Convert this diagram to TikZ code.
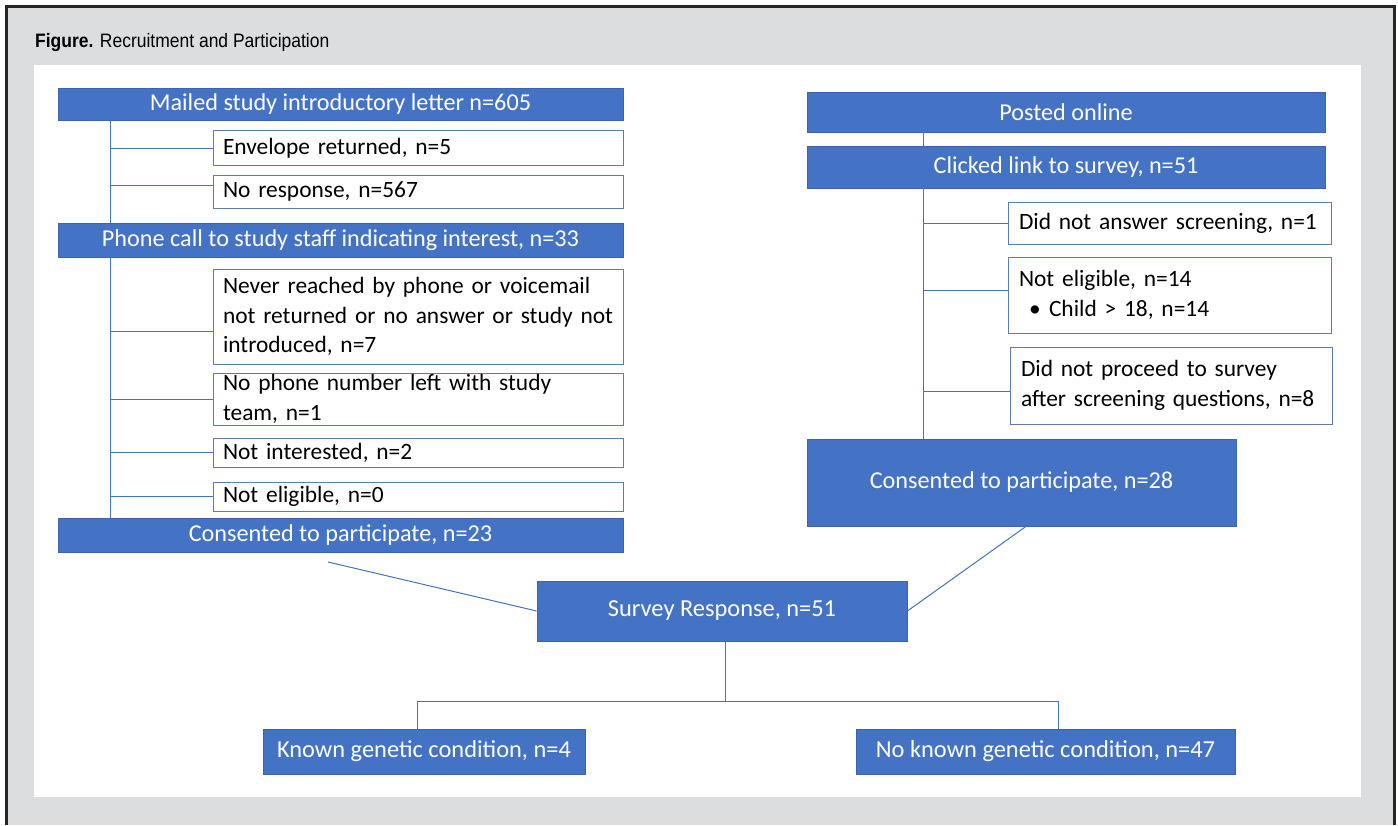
\documentclass[tikz,border=0pt]{standalone}
\usepackage{fontspec}
\setmainfont{Carlito}
\newfontfamily\capfont[FakeStretch=0.9]{Liberation Sans}
\definecolor{obblue}{HTML}{4472C4}
\definecolor{obedge}{HTML}{3B64AE}
\definecolor{wedge}{HTML}{5A7DB8}
\definecolor{panelgray}{HTML}{DCDDDF}
\definecolor{framedark}{HTML}{262626}
\begin{document}
\begin{tikzpicture}[x=1bp,y=-1bp,
  bluebox/.style={fill=obblue, draw=obedge, line width=0.8bp, text=white, inner sep=0pt, align=center, font=\fontsize{24.3}{29}\selectfont},
  whitebox/.style={fill=white, draw=wedge, line width=1bp, text=black, inner xsep=10bp, inner ysep=0pt, align=left, font=\fontsize{23.5}{29.5}\selectfont},
  bottomtext/.style={font=\fontsize{24.5}{29}\selectfont},
  conn/.style={draw=obblue, line width=1bp}]
\useasboundingbox (0,0) rectangle (1398,825);
% frame and panel
\fill[panelgray] (5,5) rectangle (1396,825);
\draw[framedark, line width=3bp] (6.5,825) -- (6.5,6.5) -- (1394.5,6.5) -- (1394.5,825);
\fill[white] (34,65) rectangle (1361,797);
\node[anchor=base west, inner sep=0pt, font=\capfont\fontsize{19.5}{22}\selectfont] (cap) at (35,47) {\textbf{Figure.} Recruitment and Participation};
% left column
\coordinate (trunkL) at (110.7,0);
\node[bluebox, minimum width=565bp, minimum height=32bp] (mail) at (340.5,104) {Mailed study introductory letter n=605};
\node[whitebox, minimum height=35bp, text width=390bp] (env) at (418,148) {Envelope returned, n=5};
\node[whitebox, minimum height=33bp, text width=390bp] (nores) at (418,191.5) {No response, n=567};
\node[bluebox, minimum width=565bp, minimum height=34bp] (phone) at (340.5,240) {Phone call to study staff indicating interest, n=33};
\node[whitebox, minimum height=95bp, text width=390bp] (never) at (418,316.5) {\mbox{Never reached by phone or voicemail}\\\mbox{not returned or no answer or study not}\\\mbox{introduced, n=7}};
\node[whitebox, minimum height=52bp, text width=390bp] (nophone) at (418,399) {\mbox{No phone number left with study}\\\mbox{team, n=1}};
\node[whitebox, minimum height=29bp, text width=390bp] (notint) at (418,452.5) {Not interested, n=2};
\node[whitebox, minimum height=29bp, text width=390bp] (notelig) at (418,496.5) {Not eligible, n=0};
\node[bluebox, minimum width=565bp, minimum height=34bp] (cons23) at (340.5,535) {Consented to participate, n=23};
\draw[conn] (mail.south -| trunkL) -- (phone.north -| trunkL);
\draw[conn] (phone.south -| trunkL) -- (cons23.north -| trunkL);
\draw[conn] (env.west) -- (env.west -| trunkL);
\draw[conn] ([yshift=6.5bp]nores.west) -- ([yshift=6.5bp]nores.west -| trunkL);
\draw[conn] ([yshift=-15bp]never.west) -- ([yshift=-15bp]never.west -| trunkL);
\draw[conn] (nophone.west) -- (nophone.west -| trunkL);
\draw[conn] (notint.west) -- (notint.west -| trunkL);
\draw[conn] (notelig.west) -- (notelig.west -| trunkL);
% right column
\coordinate (trunkR) at (923.7,0);
\node[bluebox, minimum width=518bp, minimum height=40bp] (posted) at (1066,112) {Posted online};
\node[bluebox, minimum width=518bp, minimum height=42bp] (clicked) at (1066,167) {Clicked link to survey, n=51};
\node[whitebox, minimum height=42bp, text width=301bp, inner xsep=11bp] (didnot) at (1169.5,223) {Did not answer screening, n=1};
\node[whitebox, minimum height=76bp, text width=301bp, inner xsep=11bp] (noteligR) at (1169.5,295) {\mbox{Not eligible, n=14}\\\mbox{\makebox[30bp][l]{\hspace*{10bp}•}Child > 18, n=14}};
\node[whitebox, minimum height=77bp, text width=300bp, inner xsep=11bp] (didproc) at (1171,385.5) {\mbox{Did not proceed to survey}\\\mbox{after screening questions, n=8}};
\node[bluebox, minimum width=429bp, minimum height=87bp] (cons28) at (1021.5,482.5) {Consented to participate, n=28};
\draw[conn] (posted.south -| trunkR) -- (clicked.north -| trunkR);
\draw[conn] (clicked.south -| trunkR) -- (cons28.north -| trunkR);
\draw[conn] (didnot.west) -- (didnot.west -| trunkR);
\draw[conn] ([yshift=5bp]noteligR.west) -- ([yshift=5bp]noteligR.west -| trunkR);
\draw[conn] ([yshift=-5.5bp]didproc.west) -- ([yshift=-5.5bp]didproc.west -| trunkR);
% bottom
\node[bluebox, bottomtext, minimum width=370bp, minimum height=60bp] (survey) at (722,611) {Survey Response, n=51};
\node[bluebox, bottomtext, minimum width=322bp, minimum height=45bp] (known) at (424,751.5) {Known genetic condition, n=4};
\node[bluebox, bottomtext, minimum width=379bp, minimum height=45bp] (noknown) at (1045.5,751.5) {No known genetic condition, n=47};
\coordinate (l23) at (328,562);
\draw[conn] (l23) -- (survey.west);
\draw[conn] ([xshift=4.5bp]cons28.south) -- (survey.east);
\coordinate (hl) at (417,701);
\coordinate (hr) at (1058,701);
\draw[conn] ([xshift=3bp]survey.south) -- ([xshift=3bp]survey.south |- hl);
\draw[conn] (known.north -| hl) -- (hl) -- (hr) -- (noknown.north -| hr);
\end{tikzpicture}
\end{document}
